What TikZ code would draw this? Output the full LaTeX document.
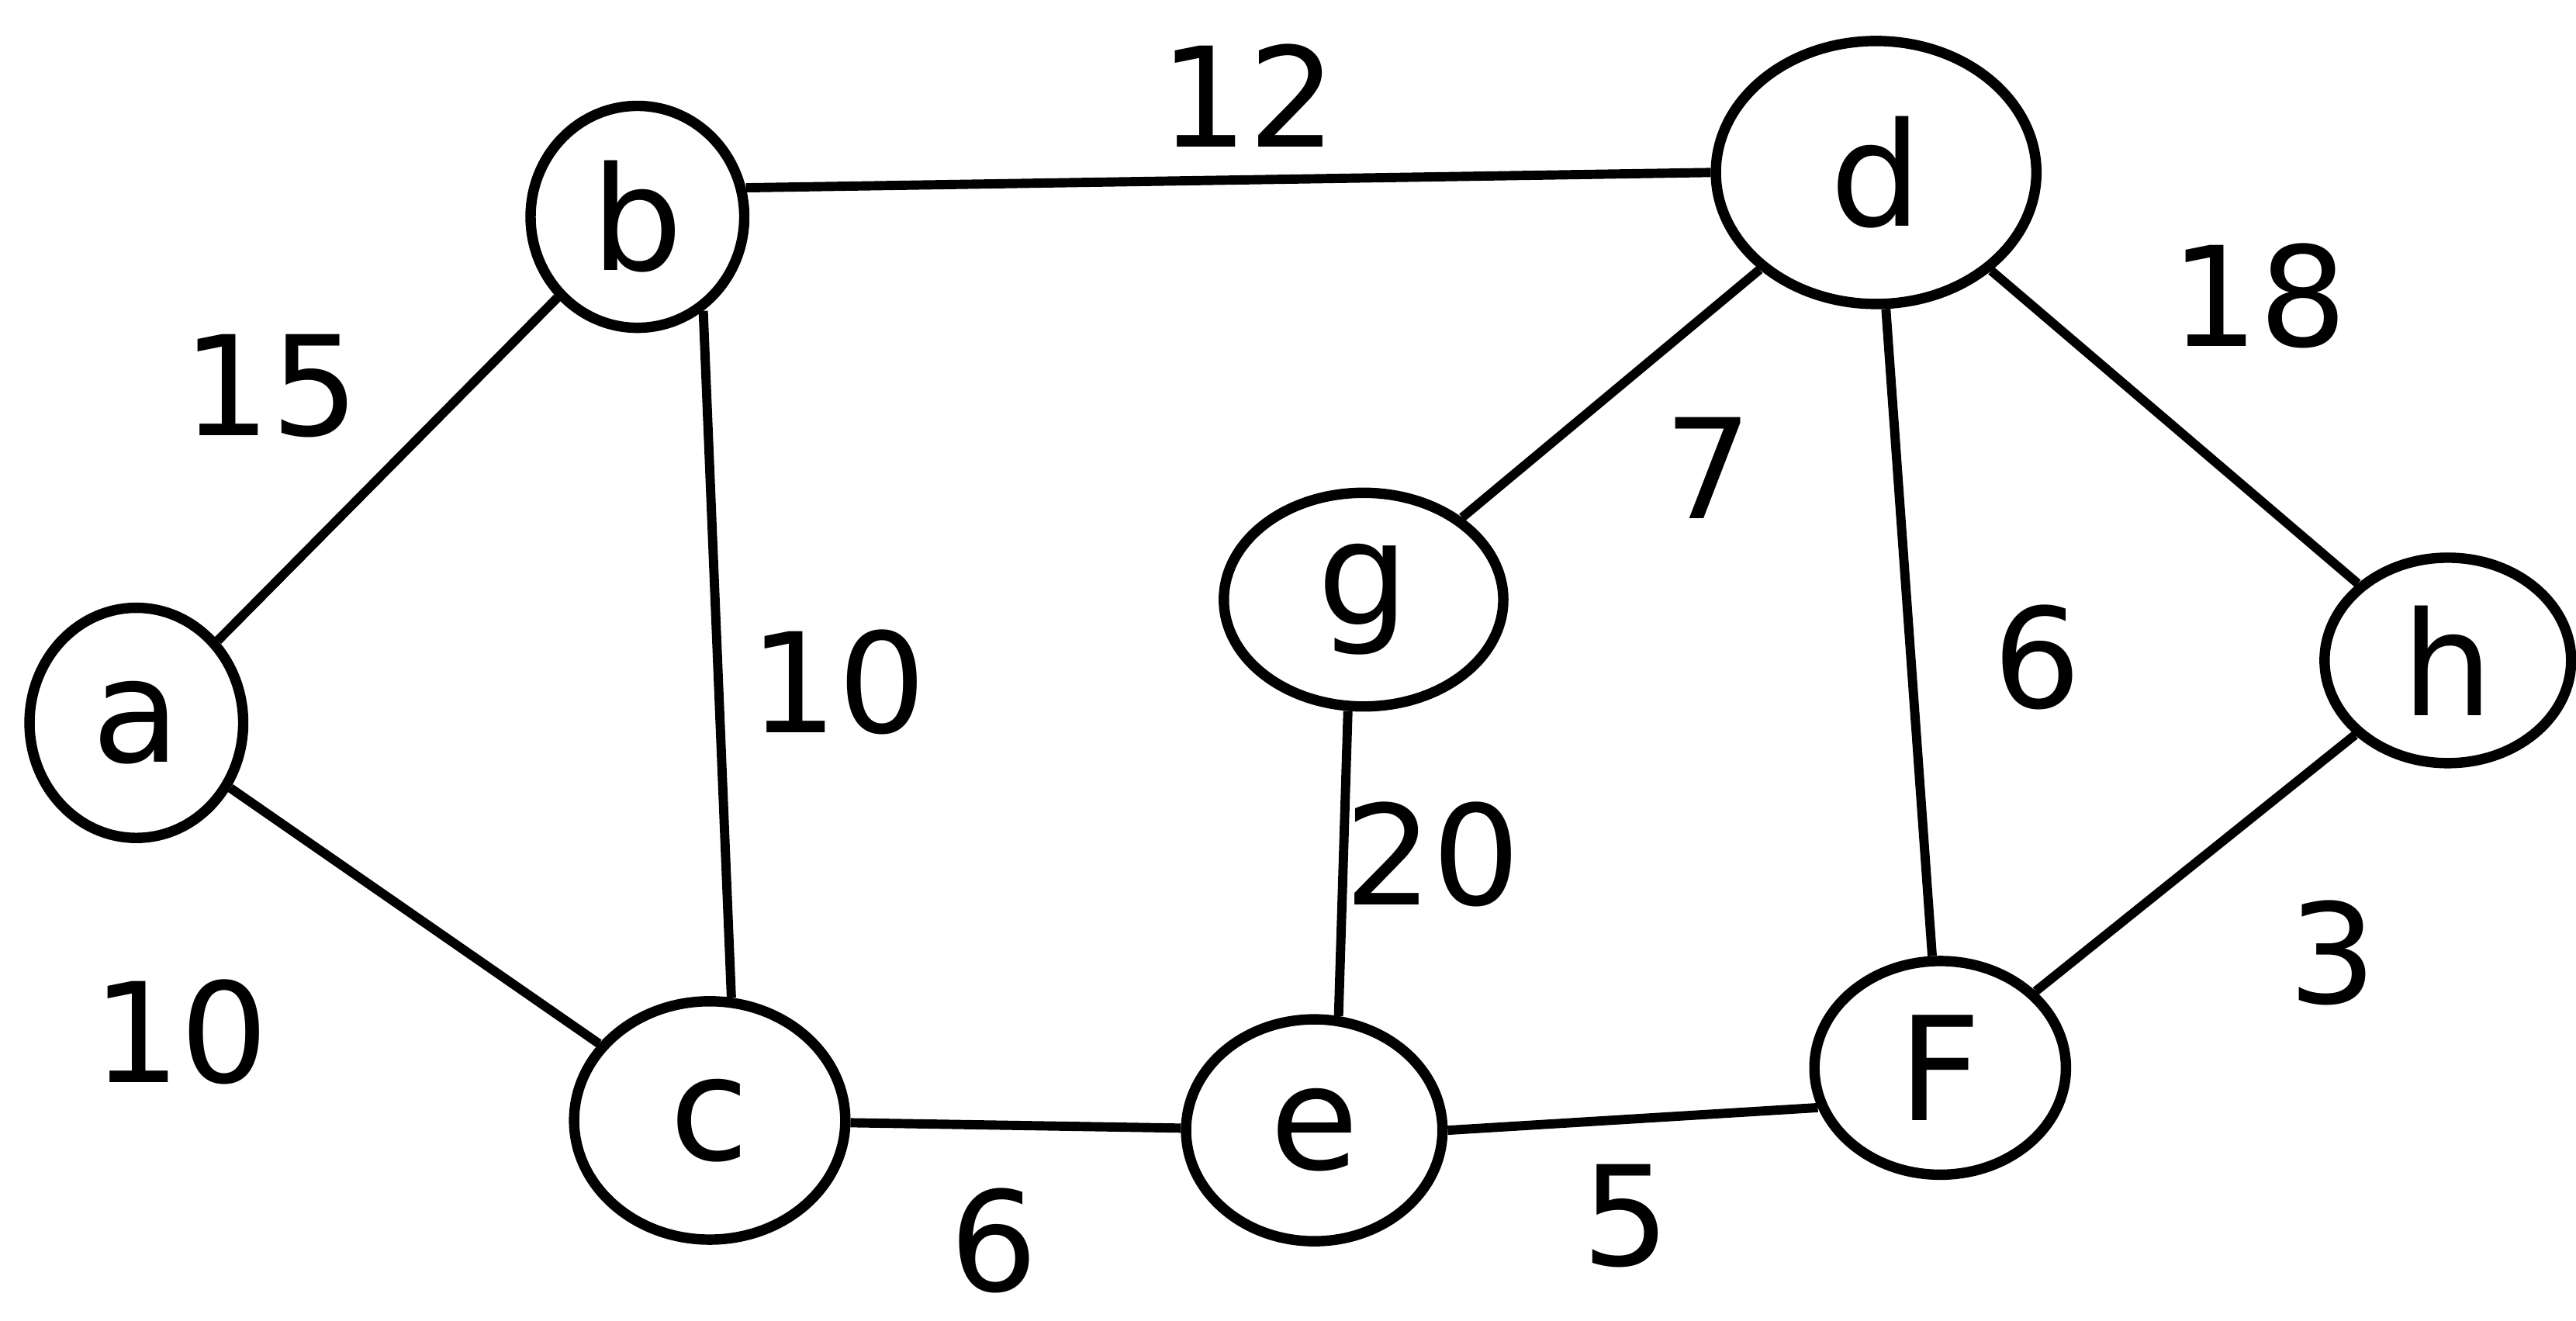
\documentclass[tikz,border=0pt]{standalone}
\usepackage{fontspec}
\setmainfont{DejaVu Sans}
\usetikzlibrary{shapes.geometric}
\begin{document}
\begin{tikzpicture}[x=0.01cm,y=-0.01cm,
  vtx/.style={draw,ellipse,line width=1.8pt,inner sep=0pt,font=\fontsize{25}{30}\selectfont},
  edge/.style={line width=1.6pt},
  wlabel/.style={font=\fontsize{24}{28}\selectfont}]
\useasboundingbox (0,0) rectangle (1568,804);
\node[vtx,minimum width=1.3cm,minimum height=1.4cm] (a) at (83,440) {a};
\node[vtx,minimum width=1.3cm,minimum height=1.35cm] (b) at (388,132) {b};
\node[vtx,minimum width=1.65cm,minimum height=1.45cm] (c) at (432,682) {c};
\node[vtx,minimum width=1.95cm,minimum height=1.6cm] (d) at (1142,105) {d};
\node[vtx,minimum width=1.7cm,minimum height=1.3cm] (g) at (830,365) {g};
\node[vtx,minimum width=1.56cm,minimum height=1.35cm] (e) at (800,688) {e};
\node[vtx,minimum width=1.53cm,minimum height=1.3cm] (f) at (1181,650) {F};
\node[vtx,minimum width=1.5cm,minimum height=1.25cm] (h) at (1490,402) {h};
\draw[edge] (a) -- (b);
\draw[edge] (a) -- (c);
\draw[edge] (b.-55) -- (c.80);
\draw[edge] (b.15) -- (d.180);
\draw[edge] (c) -- (e);
\draw[edge] (d) -- (g);
\draw[edge] (d) -- (f);
\draw[edge] (d) -- (h);
\draw[edge] (g.262) -- (e.78);
\draw[edge] (e.east) -- (f.198);
\draw[edge] (f) -- (h);
\node[wlabel] (l1) at (760,58) {12};
\node[wlabel] (l2) at (165,235) {15};
\node[wlabel] (l3) at (510,415) {10};
\node[wlabel] (l4) at (110,628) {10};
\node[wlabel] (l5) at (1040,285) {7};
\node[wlabel] (l6) at (1240,400) {6};
\node[wlabel] (l7) at (1375,180) {18};
\node[wlabel] (l8) at (872,520) {20};
\node[wlabel] (l9) at (1420,580) {3};
\node[wlabel] (l10) at (605,755) {6};
\node[wlabel] (l11) at (990,740) {5};
\end{tikzpicture}
\end{document}
